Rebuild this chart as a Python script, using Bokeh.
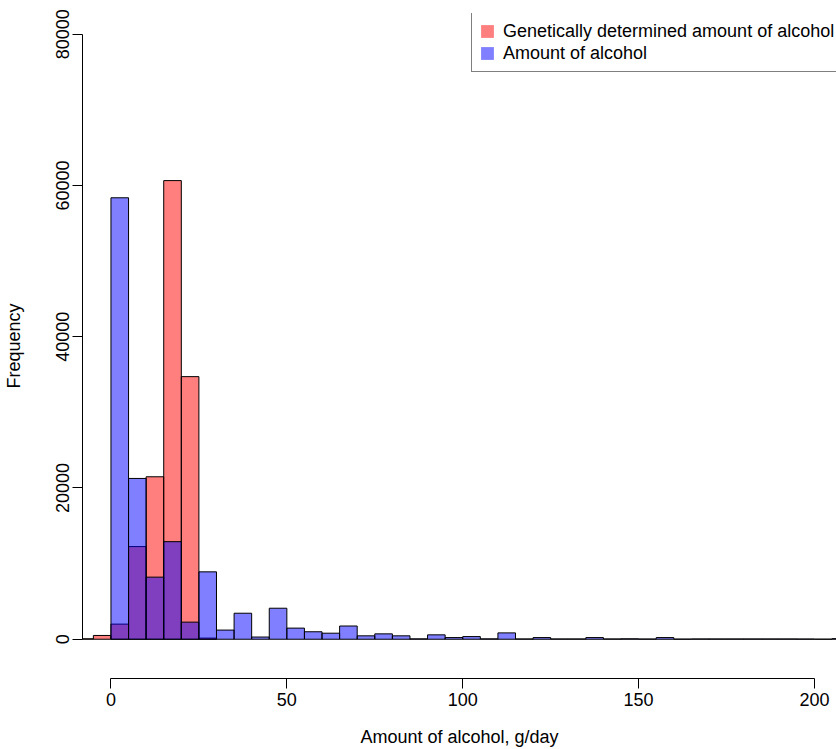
from bokeh.plotting import figure
from bokeh.models import Range1d, FixedTicker, Legend, LegendItem, ColumnDataSource
from bokeh.embed import file_html
from bokeh.resources import INLINE

# ---- data ----
bin_width = 5
genetic_bin_starts = [-10, -5, 0, 5, 10, 15, 20, 25]
genetic_counts = [60, 500, 2000, 12250, 21480, 60640, 34720, 150]

alcohol_bin_starts = [0, 5, 10, 15, 20, 25, 30, 35, 40, 45, 50, 55, 60, 65, 70, 75,
                      80, 85, 90, 95, 100, 105, 110, 115, 120, 125, 130, 135, 140,
                      145, 150, 155, 160, 165, 170, 175, 180, 185, 190, 195, 200, 205]
alcohol_counts = [58370, 21260, 8210, 12900, 2260, 8910, 1210, 3440, 290, 4100, 1470,
                  990, 800, 1750, 450, 710, 450, 50, 580, 220, 350, 50, 840, 40, 220,
                  40, 40, 220, 40, 60, 30, 220, 20, 40, 40, 40, 40, 40, 40, 30, 10, 80]

x_ticks = [0, 50, 100, 150, 200]
y_ticks = [0, 20000, 40000, 60000, 80000]

label_genetic = "Genetically determined amount of alcohol"
label_alcohol = "Amount of alcohol"
x_title = "Amount of alcohol, g/day"
y_title = "Frequency"

FONT = "Liberation Sans"
NAN = float("nan")

p = figure(width=836, height=749, output_backend="svg", toolbar_location=None,
           x_range=Range1d(-8.09, 206.25), y_range=Range1d(-5191, 82733),
           min_border_left=81, min_border_right=0, min_border_top=13,
           min_border_bottom=67)
p.outline_line_color = None
p.xgrid.visible = False
p.ygrid.visible = False
p.background_fill_color = "white"
p.border_fill_color = "white"

src_g = ColumnDataSource(dict(
    left=genetic_bin_starts,
    right=[b + bin_width for b in genetic_bin_starts],
    top=genetic_counts,
    bottom=[0] * len(genetic_counts)))
src_a = ColumnDataSource(dict(
    left=alcohol_bin_starts,
    right=[b + bin_width for b in alcohol_bin_starts],
    top=alcohol_counts,
    bottom=[0] * len(alcohol_counts)))

p.quad(left="left", right="right", top="top", bottom="bottom", source=src_g,
       fill_color="red", fill_alpha=0.5, line_color="black", line_width=1)
p.quad(left="left", right="right", top="top", bottom="bottom", source=src_a,
       fill_color="blue", fill_alpha=0.5, line_color="black", line_width=1)

# legend proxies (borderless boxes, not drawn in the plot area)
proxy = dict(left=[NAN], right=[NAN], top=[NAN], bottom=[NAN])
lg = p.quad(left="left", right="right", top="top", bottom="bottom",
            source=ColumnDataSource(dict(proxy)), fill_color="red", fill_alpha=0.5,
            line_color=None)
la = p.quad(left="left", right="right", top="top", bottom="bottom",
            source=ColumnDataSource(dict(proxy)), fill_color="blue", fill_alpha=0.5,
            line_color=None)

legend = Legend(items=[LegendItem(label=label_genetic, renderers=[lg]),
                       LegendItem(label=label_alcohol, renderers=[la])],
                location=(389, 606), margin=0, padding=7, spacing=0,
                glyph_width=16, glyph_height=16, label_height=22,
                label_standoff=8, border_line_color="black", border_line_width=1,
                background_fill_color="white", background_fill_alpha=1.0,
                label_text_font=FONT, label_text_font_size="18px",
                label_text_color="black")
p.add_layout(legend)

for ax in (p.xaxis[0], p.yaxis[0]):
    ax.axis_line_color = "black"
    ax.major_tick_line_color = "black"
    ax.minor_tick_line_color = None
    ax.major_tick_in = 0
    ax.major_tick_out = 10
    ax.major_label_text_font = FONT
    ax.major_label_text_font_size = "18px"
    ax.major_label_text_color = "black"
    ax.axis_label_text_font = FONT
    ax.axis_label_text_font_size = "18px"
    ax.axis_label_text_font_style = "normal"
    ax.axis_label_text_color = "black"

p.xaxis[0].ticker = FixedTicker(ticks=x_ticks)
p.xaxis[0].bounds = (x_ticks[0], x_ticks[-1])
p.xaxis[0].axis_label = x_title
p.xaxis[0].major_label_standoff = 4
p.xaxis[0].axis_label_standoff = 18

p.yaxis[0].ticker = FixedTicker(ticks=y_ticks)
p.yaxis[0].bounds = (y_ticks[0], y_ticks[-1])
p.yaxis[0].axis_label = y_title
p.yaxis[0].major_label_orientation = "parallel"
p.yaxis[0].major_label_standoff = 3
p.yaxis[0].axis_label_standoff = 30
p.yaxis[0].formatter.use_scientific = False

open("out.html", "w").write(file_html(p, INLINE))
